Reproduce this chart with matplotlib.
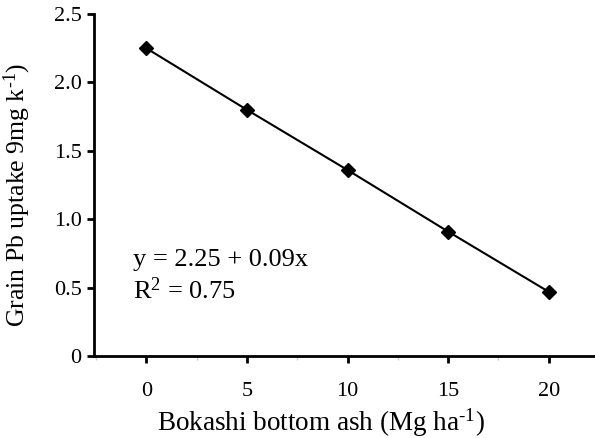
import matplotlib.pyplot as plt
from matplotlib.ticker import MultipleLocator

plt.rcParams['font.family'] = ['Liberation Serif', 'DejaVu Serif']
plt.rcParams['mathtext.fontset'] = 'custom'
plt.rcParams['mathtext.rm'] = 'Liberation Serif'
plt.rcParams['mathtext.it'] = 'Liberation Serif:italic'

# data
ash_rate = [0, 5, 10, 15, 20]
pb_uptake = [2.25, 1.80, 1.36, 0.91, 0.47]
y_ticks = [0, 0.5, 1.0, 1.5, 2.0, 2.5]
y_tick_labels = ['0', '0.5', '1.0', '1.5', '2.0', '2.5']
x_ticks = [0, 5, 10, 15, 20]

fig = plt.figure(figsize=(5.95, 4.38), dpi=100)
ax = fig.add_axes([0.158, 0.187, 0.842, 0.781])

ax.plot(ash_rate, pb_uptake, 'D-', color='black', linewidth=1.5, markersize=7)

ax.set_xlim(-2.6, 22.3)
ax.set_ylim(0, 2.5)
ax.set_xticks(x_ticks)
ax.xaxis.set_minor_locator(MultipleLocator(2.5))
ax.set_yticks(y_ticks)
ax.set_yticklabels(y_tick_labels)

for side in ['top', 'right']:
    ax.spines[side].set_visible(False)
for side in ['left', 'bottom']:
    ax.spines[side].set_linewidth(2)

ax.tick_params(axis='both', which='major', direction='out', length=5, width=2,
               labelsize=16)
ax.tick_params(axis='x', which='major', pad=14)
ax.tick_params(axis='y', which='major', pad=4)
ax.tick_params(axis='x', which='minor', length=3, width=1, color='#cccccc')
ax.tick_params(axis='y', which='minor', length=0)

ax.set_xlabel(r'Bokashi bottom ash (Mg ha$^{\text{-}1}$)', fontsize=19.5, va='center')
ax.xaxis.set_label_coords(0.453, -0.196)
ax.set_ylabel(r'Grain Pb uptake 9mg k$^{\text{-}1}$)', fontsize=18.5)
ax.yaxis.set_label_coords(-0.122, 0.47)

ax.text(-0.65, 0.70, 'y = 2.25 + 0.09x', fontsize=19, va='center')
ax.text(-0.65, 0.48, r'R$^{2}$ = 0.75', fontsize=19, va='center')

plt.savefig('out.png', dpi=100)
